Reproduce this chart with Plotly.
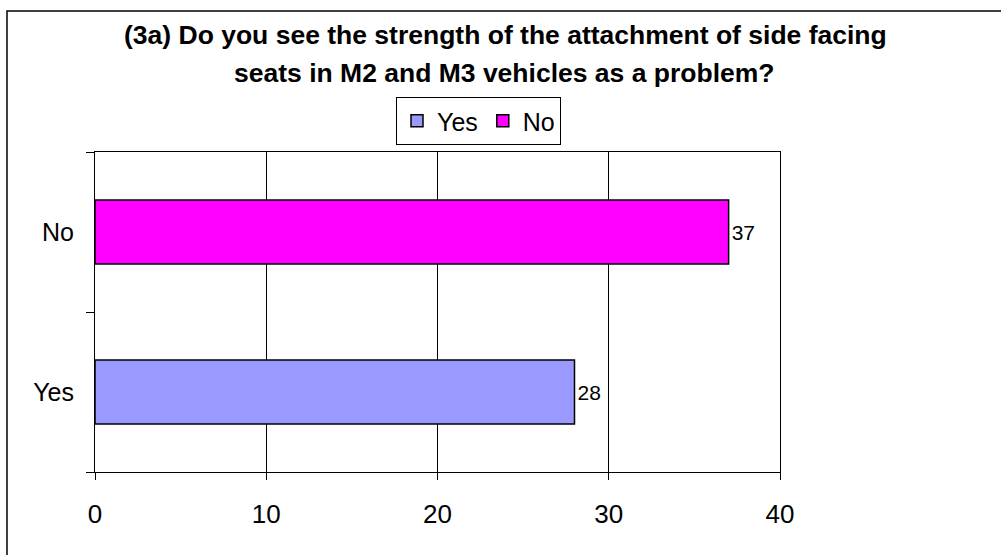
import plotly.graph_objects as go

categories = ["Yes", "No"]
values = [28, 37]
colors = ["#9999FF", "#FF00FF"]
x_ticks = [0, 10, 20, 30, 40]
title_lines = [
    "(3a) Do you see the strength of the attachment of side facing",
    "seats in M2 and M3 vehicles as a problem?",
]

FONT = "Liberation Sans, Arial, sans-serif"

fig = go.Figure()
for cat, val, col in zip(categories, values, colors):
    fig.add_trace(go.Bar(
        y=[cat], x=[val], name=cat, orientation="h",
        marker=dict(color=col, line=dict(color="black", width=1.5)),
        width=0.4,
        text=[str(val)], textposition="outside",
        textfont=dict(family=FONT, size=21, color="black"),
        cliponaxis=False,
    ))

L, R, T, B = 95, 221, 152, 83
W, H = 1001, 555
pw, ph = W - L - R, H - T - B

def px(x):
    return (x - L) / pw

def py(y):
    return (H - B - y) / ph

annotations = [
    dict(text="<b>" + title_lines[0] + "</b>", x=px(505), y=py(35), xref="paper", yref="paper",
         xanchor="center", yanchor="middle", showarrow=False,
         font=dict(family=FONT, size=26.5, color="black")),
    dict(text="<b>" + title_lines[1] + "</b>", x=px(504), y=py(73), xref="paper", yref="paper",
         xanchor="center", yanchor="middle", showarrow=False,
         font=dict(family=FONT, size=26.5, color="black")),
]

fig.update_layout(
    width=W, height=H,
    margin=dict(l=L, r=R, t=T, b=B, pad=0),
    paper_bgcolor="white", plot_bgcolor="white",
    barmode="overlay",
    showlegend=True,
    legend=dict(
        orientation="h", x=px(478.5), y=py(97), xanchor="center", yanchor="top",
        bordercolor="black", borderwidth=1, bgcolor="white",
        font=dict(family=FONT, size=25, color="black"),
        traceorder="normal",
    ),
    annotations=annotations,
    shapes=[dict(type="rect", xref="paper", yref="paper",
                 x0=px(7), x1=px(1005), y0=py(560), y1=py(11),
                 line=dict(color="black", width=1.5), layer="below")],
    font=dict(family=FONT, color="black"),
)

fig.update_xaxes(
    range=[0, 40], tickvals=x_ticks, ticktext=[str(t) for t in x_ticks],
    showgrid=True, gridcolor="black", gridwidth=1,
    zeroline=False,
    showline=True, linecolor="black", linewidth=1, mirror=True,
    ticks="outside", ticklen=7, tickcolor="black",
    tickfont=dict(family=FONT, size=26, color="black"),
    ticklabelstandoff=12,
)
fig.update_yaxes(
    categoryorder="array", categoryarray=categories,
    showgrid=False, zeroline=False,
    showline=True, linecolor="black", linewidth=1, mirror=True,
    ticks="outside", ticklen=8, tickcolor="black", tickson="boundaries",
    tickfont=dict(family=FONT, size=25, color="black"),
    ticklabelstandoff=15,
)

fig.write_html(
    "out.html",
    config={"displayModeBar": False},
    post_script="document.body.style.margin='0';document.body.style.overflow='hidden';",
)
